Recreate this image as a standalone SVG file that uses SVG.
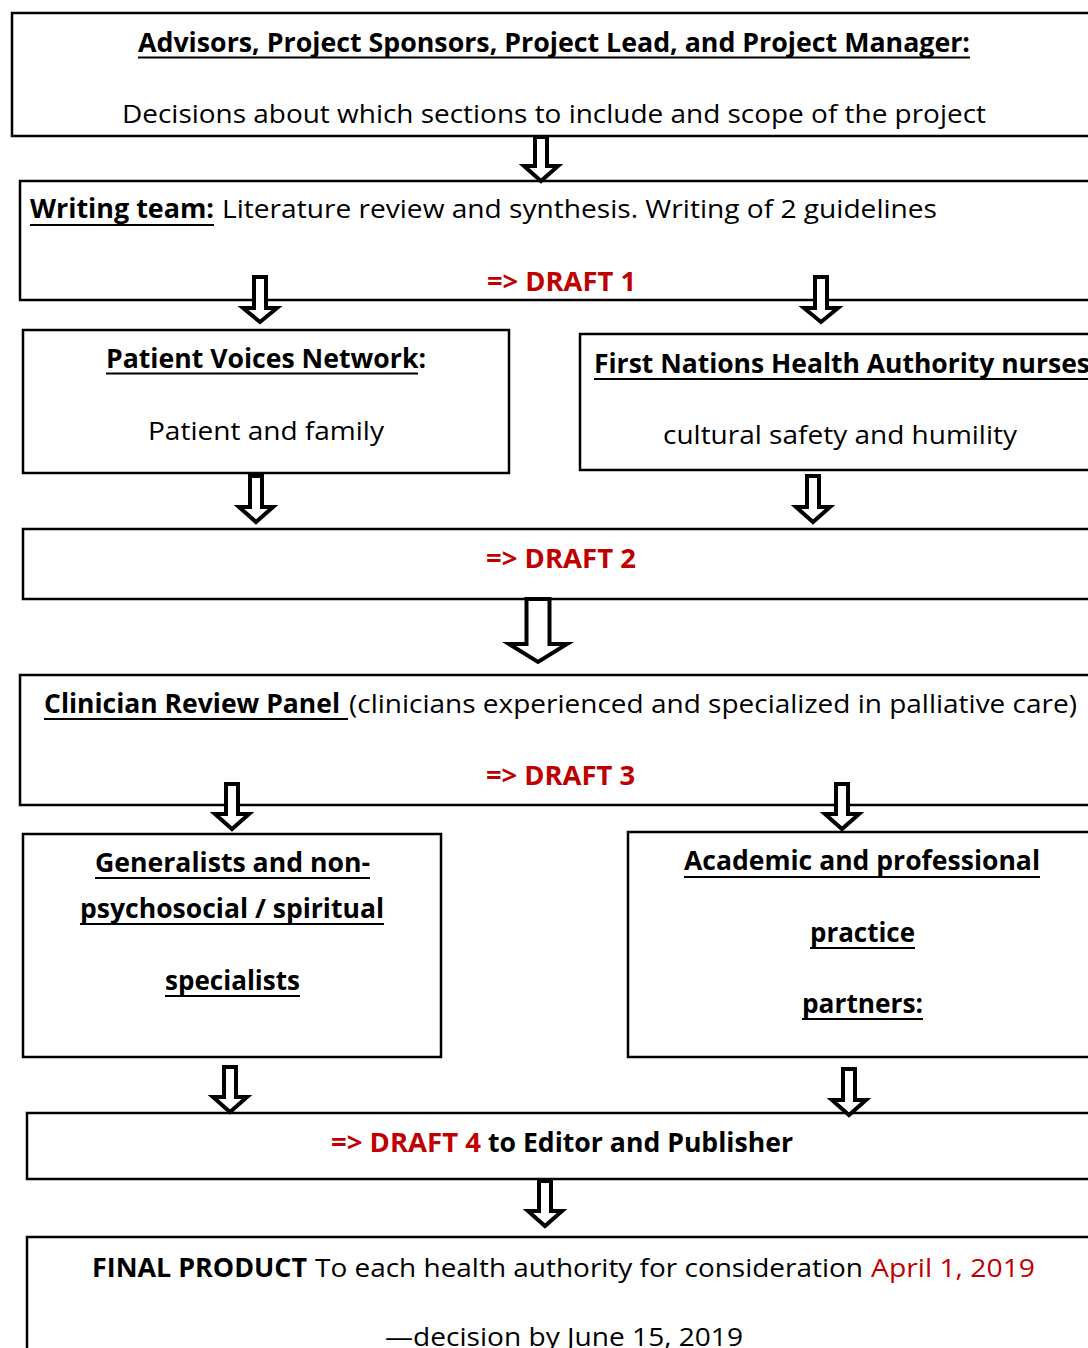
<svg xmlns="http://www.w3.org/2000/svg" width="1088" height="1348" viewBox="0 0 1088 1348">
<style>
text{font-family:"Open Sans","Liberation Sans",sans-serif;font-size:26px;fill:#000}
.b{font-weight:bold}
.r{fill:#c00000}
.box{fill:#fff;stroke:#000;stroke-width:2.5}
.ul{stroke:#000;stroke-width:2}
.arr{fill:#fff;stroke:#000;stroke-width:4;stroke-linejoin:miter;stroke-miterlimit:10}
</style>
<rect width="1088" height="1348" fill="#fff"/>
<g id="node-advisors">
<rect class="box" x="12" y="13" width="1100" height="123"/>
<text class="b" x="138" y="52" textLength="832" lengthAdjust="spacingAndGlyphs">Advisors, Project Sponsors, Project Lead, and Project Manager:</text>
<line class="ul" x1="138" y1="57.5" x2="970" y2="57.5"/>
<text x="122" y="123" textLength="864" lengthAdjust="spacingAndGlyphs">Decisions about which sections to include and scope of the project</text>
</g>
<g id="node-writing">
<rect class="box" x="20" y="181" width="1100" height="119"/>
<text class="b" x="30" y="218" textLength="184" lengthAdjust="spacingAndGlyphs">Writing team:</text>
<line class="ul" x1="30" y1="225" x2="214" y2="225"/>
<text x="222" y="218" textLength="715" lengthAdjust="spacingAndGlyphs">Literature review and synthesis. Writing of 2 guidelines</text>
<text class="b r" x="487" y="291" textLength="149" lengthAdjust="spacingAndGlyphs">=&gt; DRAFT 1</text>
</g>
<g id="node-pvn">
<rect class="box" x="23" y="330" width="486" height="143"/>
<text class="b" x="106" y="368" textLength="320" lengthAdjust="spacingAndGlyphs">Patient Voices Network:</text>
<line class="ul" x1="106" y1="373.5" x2="418" y2="373.5"/>
<text x="148" y="440" textLength="236" lengthAdjust="spacingAndGlyphs">Patient and family</text>
</g>
<g id="node-fnha">
<rect class="box" x="580" y="334" width="520" height="136"/>
<text class="b" x="594" y="373" textLength="496" lengthAdjust="spacingAndGlyphs">First Nations Health Authority nurses</text>
<line class="ul" x1="594" y1="379" x2="1090" y2="379"/>
<text x="663" y="444" textLength="354" lengthAdjust="spacingAndGlyphs">cultural safety and humility</text>
</g>
<g id="node-draft2">
<rect class="box" x="23" y="529" width="1090" height="70"/>
<text class="b r" x="486" y="568" textLength="150" lengthAdjust="spacingAndGlyphs">=&gt; DRAFT 2</text>
</g>
<g id="node-clinician">
<rect class="box" x="20" y="675" width="1100" height="130"/>
<text class="b" x="44" y="713" textLength="296" lengthAdjust="spacingAndGlyphs">Clinician Review Panel</text>
<line class="ul" x1="44" y1="719" x2="348" y2="719"/>
<text x="349" y="713" textLength="728" lengthAdjust="spacingAndGlyphs">(clinicians experienced and specialized in palliative care)</text>
<text class="b r" x="486" y="785" textLength="149" lengthAdjust="spacingAndGlyphs">=&gt; DRAFT 3</text>
</g>
<g id="node-generalists">
<rect class="box" x="23" y="834" width="418" height="223"/>
<text class="b" x="95" y="872" textLength="275" lengthAdjust="spacingAndGlyphs">Generalists and non-</text>
<line class="ul" x1="95" y1="878" x2="370" y2="878"/>
<text class="b" x="80" y="918" textLength="304" lengthAdjust="spacingAndGlyphs">psychosocial / spiritual</text>
<line class="ul" x1="80" y1="924" x2="384" y2="924"/>
<text class="b" x="165" y="990" textLength="135" lengthAdjust="spacingAndGlyphs">specialists</text>
<line class="ul" x1="165" y1="996" x2="300" y2="996"/>
</g>
<g id="node-academic">
<rect class="box" x="628" y="832" width="480" height="225"/>
<text class="b" x="684" y="870" textLength="356" lengthAdjust="spacingAndGlyphs">Academic and professional</text>
<line class="ul" x1="684" y1="877" x2="1040" y2="877"/>
<text class="b" x="810" y="942" textLength="105" lengthAdjust="spacingAndGlyphs">practice</text>
<line class="ul" x1="810" y1="948" x2="915" y2="948"/>
<text class="b" x="802" y="1013" textLength="121" lengthAdjust="spacingAndGlyphs">partners:</text>
<line class="ul" x1="802" y1="1019" x2="923" y2="1019"/>
</g>
<g id="node-draft4">
<rect class="box" x="27" y="1113" width="1090" height="66"/>
<text class="b r" x="331" y="1152" textLength="150" lengthAdjust="spacingAndGlyphs">=&gt; DRAFT 4</text>
<text class="b" x="488" y="1152" textLength="305" lengthAdjust="spacingAndGlyphs">to Editor and Publisher</text>
</g>
<g id="node-final">
<rect class="box" x="27" y="1237" width="1090" height="130"/>
<text class="b" x="92" y="1277" textLength="215" lengthAdjust="spacingAndGlyphs">FINAL PRODUCT</text>
<text x="315" y="1277" textLength="548" lengthAdjust="spacingAndGlyphs">To each health authority for consideration</text>
<text class="r" x="871" y="1277" textLength="164" lengthAdjust="spacingAndGlyphs">April 1, 2019</text>
<text x="385" y="1346" textLength="358" lengthAdjust="spacingAndGlyphs">—decision by June 15, 2019</text>
</g>
<g id="connectors">
<path class="arr" d="M535,137 H547 V166 H558 L541,181 L524,166 H535 Z"/>
<path class="arr" d="M254,277 H266 V308 H277 L260,322 L243,308 H254 Z"/>
<path class="arr" d="M815,277 H827 V308 H838 L821,322 L804,308 H815 Z"/>
<path class="arr" d="M250,476 H262 V507 H273 L256,522 L239,507 H250 Z"/>
<path class="arr" d="M807,476 H819 V507 H830 L813,522 L796,507 H807 Z"/>
<path class="arr" d="M526.5,599 H549.5 V644 H567 L538,662 L509,644 H526.5 Z"/>
<path class="arr" d="M226,784 H238 V814 H249 L232,829 L215,814 H226 Z"/>
<path class="arr" d="M836,784 H848 V814 H859 L842,829 L825,814 H836 Z"/>
<path class="arr" d="M224,1067 H236 V1097 H247 L230,1112 L213,1097 H224 Z"/>
<path class="arr" d="M843,1069 H855 V1100 H866 L849,1115 L832,1100 H843 Z"/>
<path class="arr" d="M539,1181 H551 V1211 H562 L545,1226 L528,1211 H539 Z"/>
</g>
</svg>
